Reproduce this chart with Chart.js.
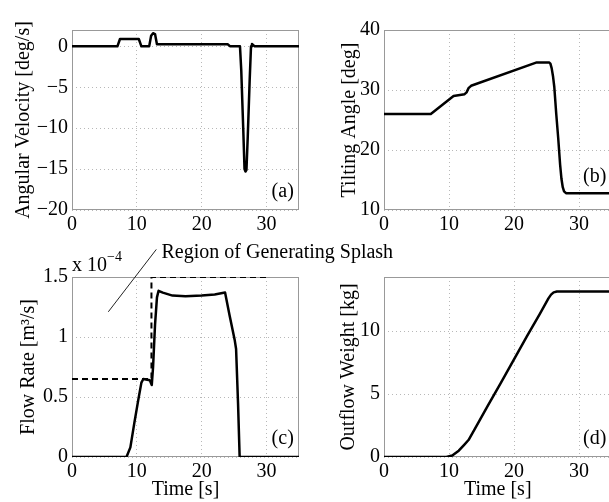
<!DOCTYPE html>
<html>
<head>
<meta charset="utf-8">
<title>Tilting pouring results</title>
<script src="https://cdn.jsdelivr.net/npm/chart.js@4.4.1/dist/chart.umd.min.js"></script>
<style>
  html, body { margin: 0; padding: 0; background: #fff; }
  body { width: 609px; height: 502px; overflow: hidden; position: relative; }
  canvas { position: absolute; }
</style>
</head>
<body>
<canvas id="chartA" width="310" height="245" style="left:0;top:0"></canvas>
<canvas id="chartB" width="310" height="245" style="left:310px;top:0"></canvas>
<canvas id="chartC" width="420" height="272" style="left:0;top:230px"></canvas>
<canvas id="chartD" width="310" height="272" style="left:310px;top:230px"></canvas>
<script>
var FONT = '"Liberation Serif", "Times New Roman", serif';

// shared time axis [s]
var timeTicks = [0, 10, 20, 30];

// (a) angular velocity [deg/s]
var timeA  = [0, 7.0, 7.4, 10.3, 10.7, 11.9, 12.2, 12.5, 12.8, 13.1, 24.0, 24.4, 25.9, 26.1, 26.4, 26.6, 26.75, 26.9, 27.1, 27.4, 27.6, 27.75, 28.0, 28.2, 35];
var angVel = [0, 0, 0.9, 0.9, 0, 0, 1.3, 1.6, 1.5, 0.25, 0.25, 0, 0, -3, -10, -15, -15.3, -15.1, -11, -4, 0, 0.3, 0.1, 0, 0];
var velTicks = [-20, -15, -10, -5, 0];

// (b) tilting angle [deg]
var timeB     = [0, 7.2, 10.7, 12.4, 12.7, 13.0, 13.4, 23.5, 25.4, 25.6, 25.8, 26.0, 26.2, 26.5, 26.8, 27.1, 27.3, 27.5, 27.7, 28.0, 35];
var tiltAngle = [26, 26, 29, 29.3, 29.6, 30.3, 30.7, 34.6, 34.6, 34.4, 33.6, 32.3, 30.5, 26, 22, 17.5, 15.2, 13.8, 13.1, 12.8, 12.8];
var angleTicks = [10, 20, 30, 40];

// (c) flow rate [x 10^-4 m^3/s], plus the splash threshold (dashed)
var timeC    = [0, 8.4, 9.0, 9.6, 10.2, 10.7, 11.0, 12.0, 12.3, 12.5, 12.8, 13.1, 13.35, 14.0, 15.5, 17.5, 20, 22, 23.6, 24.3, 25.1, 25.3, 25.6, 25.85, 35];
var flowRate = [0, 0, 0.08, 0.28, 0.47, 0.62, 0.65, 0.64, 0.6, 0.75, 1.1, 1.33, 1.385, 1.37, 1.345, 1.34, 1.345, 1.355, 1.37, 1.18, 0.97, 0.9, 0.45, 0, 0];
var timeRef  = [0, 12.25, 12.25, 30];
var flowRef  = [0.65, 0.65, 1.5, 1.5];
var flowTicks = [0, 0.5, 1, 1.5];

// (d) outflow weight [kg]
var timeD     = [0, 9.6, 10.5, 11.5, 12.3, 13.0, 14, 16, 18, 20, 22, 24, 25.3, 25.7, 26.1, 26.6, 35];
var outWeight = [0, 0, 0.12, 0.5, 0.95, 1.35, 2.25, 4.1, 5.9, 7.75, 9.6, 11.4, 12.6, 12.9, 13.08, 13.15, 13.15];
var weightTicks = [0, 5, 10];

function pts(xs, ys) {
  return xs.map(function (x, i) { return {x: x, y: ys[i]}; });
}

function fixTicks(list) {
  return function (s) { s.ticks = list.map(function (v) { return {value: v}; }); };
}

// box around the axes + panel tag like "(a)"
var deco = {
  id: 'deco',
  beforeDatasetsDraw: function (chart) {
    var ctx = chart.ctx, a = chart.chartArea;
    ctx.save();
    ctx.strokeStyle = '#999';
    ctx.lineWidth = 1;
    ctx.strokeRect(Math.round(a.left) + 0.5, Math.round(a.top) + 0.5,
      Math.round(a.right - a.left) - 1, Math.round(a.bottom - a.top) - 1);
    ctx.restore();
  },
  afterDatasetsDraw: function (chart, args, opts) {
    var ctx = chart.ctx;
    ctx.save();
    ctx.fillStyle = '#000';
    ctx.font = '20px ' + FONT;
    ctx.textAlign = 'right';
    ctx.textBaseline = 'middle';
    ctx.fillText(opts.tag, chart.scales.x.getPixelForValue(opts.tagX), chart.scales.y.getPixelForValue(opts.tagY));
    if (opts.extra) opts.extra(chart);
    ctx.restore();
  }
};

function makePanel(id, o) {
  var tickFont = {family: FONT, size: 20};
  return new Chart(document.getElementById(id), {
    type: 'line',
    data: {datasets: o.datasets},
    plugins: [deco],
    options: {
      responsive: false,
      animation: false,
      events: [],
      layout: {padding: o.padding},
      elements: {point: {radius: 0}, line: {tension: 0, borderJoinStyle: 'round'}},
      plugins: {
        legend: {display: false},
        tooltip: {enabled: false},
        deco: {tag: o.tag, tagX: o.tagX, tagY: o.tagY, extra: o.extra}
      },
      scales: {
        x: {
          type: 'linear', min: 0, max: 35,
          afterBuildTicks: fixTicks(timeTicks),
          afterFit: function (s) { s.height = o.xHeight; },
          grid: {color: '#b8b8b8', drawTicks: false},
          border: {display: false, dash: [1, 3]},
          ticks: {color: '#000', font: tickFont, padding: 3, maxRotation: 0, autoSkip: false},
          title: {display: !!o.xTitle, text: o.xTitle || '', color: '#000', font: tickFont, padding: {top: 0, bottom: 0}}
        },
        y: {
          type: 'linear', min: o.yMin, max: o.yMax,
          afterBuildTicks: fixTicks(o.yTicks),
          afterFit: function (s) { s.width = o.yWidth; },
          grid: {color: '#b8b8b8', drawTicks: false},
          border: {display: false, dash: [1, 3]},
          ticks: {
            color: '#000', font: tickFont, padding: 4, autoSkip: false,
            callback: function (v) { return String(v).replace('-', '\u2212'); }
          },
          title: {display: true, text: o.yTitle, color: '#000', font: tickFont, padding: {top: o.yTitlePad, bottom: 0}}
        }
      }
    }
  });
}

function solid(xs, ys) {
  return {data: pts(xs, ys), borderColor: '#000', borderWidth: 2.5, fill: false};
}

makePanel('chartA', {
  datasets: [solid(timeA, angVel)],
  yMin: -20, yMax: 2, yTicks: velTicks, yTitle: 'Angular Velocity [deg/s]', yTitlePad: 12,
  yWidth: 72, xHeight: 35, padding: {left: 0, top: 30, right: 11, bottom: 0},
  tag: '(a)', tagX: 34.2, tagY: -17.8
});

makePanel('chartB', {
  datasets: [solid(timeB, tiltAngle)],
  yMin: 10, yMax: 40, yTicks: angleTicks, yTitle: 'Tilting Angle [deg]', yTitlePad: 28,
  yWidth: 74, xHeight: 35, padding: {left: 0, top: 30, right: 8.5, bottom: 0},
  tag: '(b)', tagX: 34.2, tagY: 15.5
});

makePanel('chartC', {
  datasets: [
    solid(timeC, flowRate),
    {data: pts(timeRef, flowRef), borderColor: '#000', borderWidth: 2, borderDash: [6, 4], fill: false}
  ],
  yMin: 0, yMax: 1.5, yTicks: flowTicks, yTitle: 'Flow Rate [m\u00b3/s]', yTitlePad: 17,
  yWidth: 72, xHeight: 45, xTitle: 'Time [s]', padding: {left: 0, top: 47, right: 121, bottom: 0},
  tag: '(c)', tagX: 34.2, tagY: 0.15,
  extra: function (chart) {
    var ctx = chart.ctx, sx = chart.scales.x, sy = chart.scales.y, a = chart.chartArea;
    // pointer to the splash region
    ctx.strokeStyle = '#222';
    ctx.lineWidth = 1;
    ctx.beginPath();
    ctx.moveTo(sx.getPixelForValue(5.6), sy.getPixelForValue(1.21));
    ctx.lineTo(sx.getPixelForValue(13.0), sy.getPixelForValue(1.73));
    ctx.stroke();
    ctx.textAlign = 'left';
    ctx.textBaseline = 'alphabetic';
    ctx.fillText('Region of Generating Splash', sx.getPixelForValue(13.8), a.top - 19);
    // axis multiplier
    ctx.fillText('x 10', a.left, a.top - 6);
    ctx.font = '14px ' + FONT;
    ctx.fillText('\u22124', a.left + 35, a.top - 16);
  }
});

makePanel('chartD', {
  datasets: [solid(timeD, outWeight)],
  yMin: 0, yMax: 14.3, yTicks: weightTicks, yTitle: 'Outflow Weight [kg]', yTitlePad: 27,
  yWidth: 74, xHeight: 45, xTitle: 'Time [s]', padding: {left: 0, top: 47, right: 8.5, bottom: 0},
  tag: '(d)', tagX: 34.2, tagY: 1.43
});
</script>
</body>
</html>
